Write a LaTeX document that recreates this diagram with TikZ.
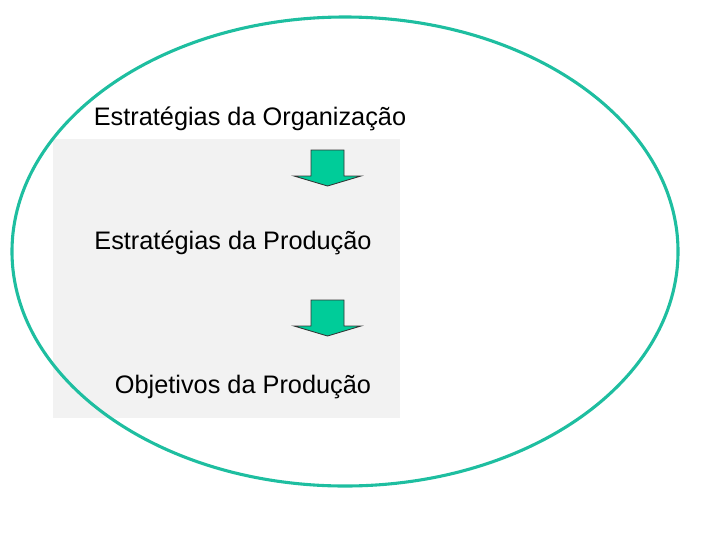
\documentclass[tikz,border=0pt]{standalone}
\usepackage{fontspec}
\setmainfont{Liberation Sans}
\definecolor{tealline}{RGB}{30,190,160}
\definecolor{boxgray}{RGB}{242,242,242}
\definecolor{arrowgreen}{RGB}{0,204,153}

\begin{document}
\begin{tikzpicture}[x=0.025cm,y=-0.025cm,
    lbl/.style={font=\fontsize{18}{21}\selectfont},
    blockarrow/.style={fill=arrowgreen,draw=black!80,line width=0.6pt}]
    \useasboundingbox (0,0) rectangle (720,540);
    \fill [boxgray] (53,139) rectangle (400,418);
    \draw [tealline,line width=2.2pt] (345,251.5) ellipse (333 and 234.5);
    \node [lbl] (org) at (250,118.5) {Estratégias da Organização};
    \node [lbl] (prod) at (233,243) {Estratégias da Produção};
    \node [lbl] (obj) at (243,387.5) {Objetivos da Produção};
    \path coordinate (p1) at (327.5,150);
    \draw [blockarrow] (p1) ++(-16.5,0) -- ++(33,0) -- ++(0,26) -- ++(17,0)
        -- ++(-33.5,10) -- ++(-33.5,-10) -- ++(17,0) -- cycle;
    \path coordinate (p2) at (327.5,300);
    \draw [blockarrow] (p2) ++(-16.5,0) -- ++(33,0) -- ++(0,26) -- ++(17,0)
        -- ++(-33.5,10) -- ++(-33.5,-10) -- ++(17,0) -- cycle;
\end{tikzpicture}
\end{document}
